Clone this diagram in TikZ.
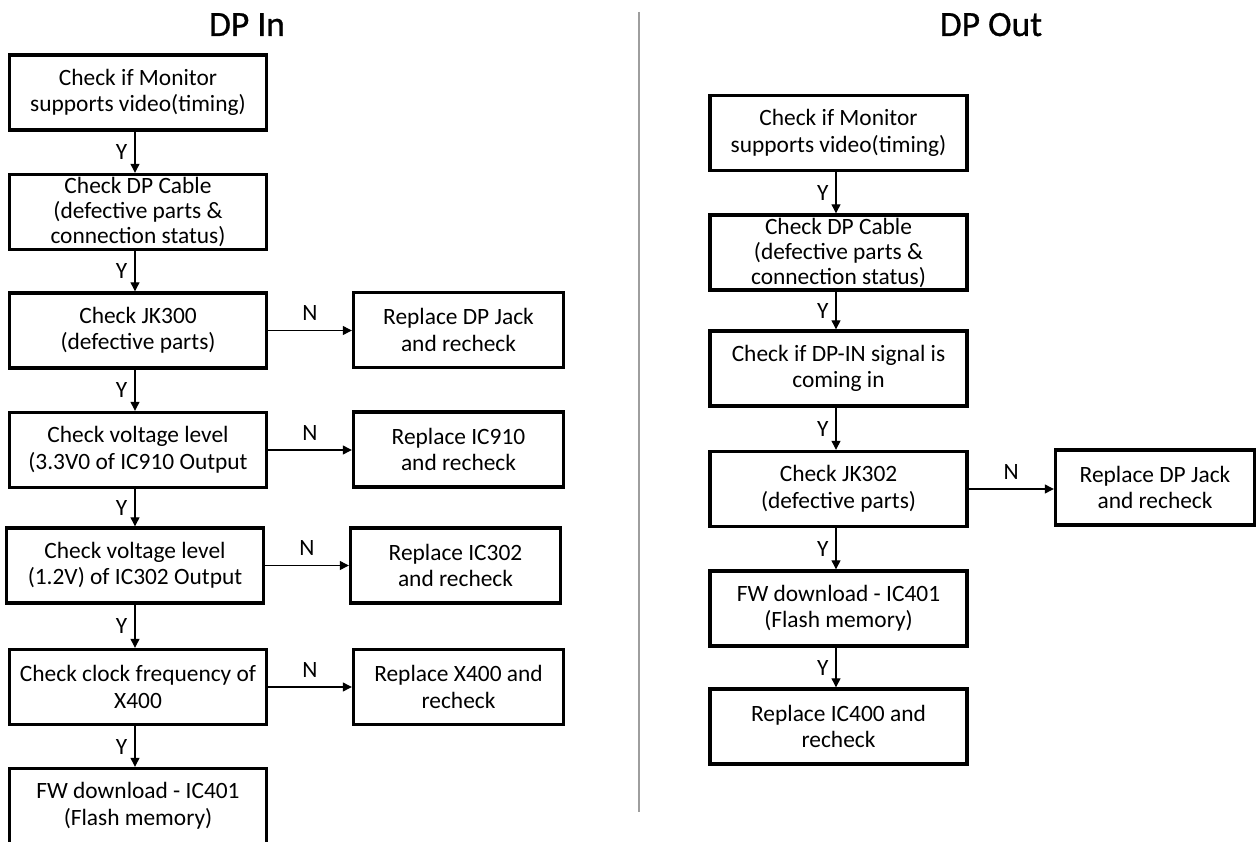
\documentclass[tikz,border=0pt]{standalone}
\usepackage{fontspec}
\setmainfont{Carlito}
\newfontfamily\headfont[FakeBold=0.8]{Carlito}
\usetikzlibrary{arrows.meta}
\begin{document}
\begin{tikzpicture}[x=1pt,y=-1pt,
  txt/.style={font=\fontsize{23.4}{26.5}\selectfont},
  box/.style={txt, draw=black, line width=3.4pt, rectangle, inner sep=0pt,
    align=center, minimum width=257pt, minimum height=75pt},
  threeline/.style={font=\fontsize{23.4}{25}\selectfont},
  fixbox/.style={box, minimum width=210pt},
  flow/.style={draw=black, line width=1.2pt, -{Triangle[length=9pt,width=9pt]}},
  yes/.style={txt, midway, left=7pt, inner sep=0pt},
  no/.style={txt, midway, above=9pt, inner sep=0pt},
  title/.style={font=\headfont\fontsize{35.5}{40}\selectfont, anchor=base, inner sep=0pt},
  divider/.style={draw=black!38, line width=1.5pt}
]
\clip (0,0) rectangle (1257,842);
\fill[white] (0,0) rectangle (1257,842);

% ---------- titles and divider ----------
\node[title] (tin)  at (247,36) {DP In};
\node[title] (tout) at (991,36) {DP Out};
\draw[divider] (639,12) -- (639,812);

% ---------- DP In ----------
\coordinate (spineL) at (135,0);
\node[box] (L1) at (138,92.5) {Check if Monitor\\supports video(timing)};
\node[box, threeline] (L2) at (138,212) {Check DP Cable\\(defective parts \&\\connection status)};
\node[box] (L3) at (138,330.5) {Check JK300\\(defective parts)};
\node[box] (L4) at (138,450) {Check voltage level\\(3.3V0 of IC910 Output};
\node[box] (L5) at (135,565.5) {Check voltage level\\(1.2V) of IC302 Output};
\node[box] (L6) at (138,687) {Check clock frequency of\\X400};
\node[box] (L7) at (138,806) {FW download - IC401\\(Flash memory)};

\node[fixbox] (R3) at (458.5,330) {Replace DP Jack\\and recheck};
\node[fixbox] (R4) at (458.5,449.5) {Replace IC910\\and recheck};
\node[fixbox] (R5) at (455.5,565.5) {Replace IC302\\and recheck};
\node[fixbox] (R6) at (458.5,687) {Replace X400 and\\recheck};

\draw[flow] (L1.south -| spineL) -- node[yes] {Y} (L2.north -| spineL);
\draw[flow] (L2.south -| spineL) -- node[yes] {Y} (L3.north -| spineL);
\draw[flow] (L3.south -| spineL) -- node[yes] {Y} (L4.north -| spineL);
\draw[flow] (L4.south -| spineL) -- node[yes] {Y} (L5.north -| spineL);
\draw[flow] (L5.south -| spineL) -- node[yes] {Y} (L6.north -| spineL);
\draw[flow] (L6.south -| spineL) -- node[yes] {Y} (L7.north -| spineL);

\draw[flow] (L3.east) -- node[no] {N} (L3.east -| R3.west);
\draw[flow] (L4.east) -- node[no] {N} (L4.east -| R4.west);
\draw[flow] (L5.east) -- node[no] {N} (L5.east -| R5.west);
\draw[flow] (L6.east) -- node[no] {N} (L6.east -| R6.west);

% ---------- DP Out ----------
\coordinate (spineR) at (836,0);
\node[box] (Q1) at (838.5,133) {Check if Monitor\\supports video(timing)};
\node[box, threeline] (Q2) at (838.5,252.5) {Check DP Cable\\(defective parts \&\\connection status)};
\node[box] (Q3) at (838.5,368.5) {Check if DP-IN signal is\\coming in};
\node[box] (Q4) at (838.5,489) {Check JK302\\(defective parts)};
\node[box] (Q5) at (838.5,608.5) {FW download - IC401\\(Flash memory)};
\node[box] (Q6) at (838.5,726.5) {Replace IC400 and\\recheck};
\node[box, minimum width=199pt] (QJ) at (1155,487.5) {Replace DP Jack\\and recheck};

\draw[flow] (Q1.south -| spineR) -- node[yes] {Y} (Q2.north -| spineR);
\draw[flow] (Q2.south -| spineR) -- node[yes] {Y} (Q3.north -| spineR);
\draw[flow] (Q3.south -| spineR) -- node[yes] {Y} (Q4.north -| spineR);
\draw[flow] (Q4.south -| spineR) -- node[yes] {Y} (Q5.north -| spineR);
\draw[flow] (Q5.south -| spineR) -- node[yes] {Y} (Q6.north -| spineR);

\draw[flow] (Q4.east) -- node[no] {N} (Q4.east -| QJ.west);
\end{tikzpicture}
\end{document}
